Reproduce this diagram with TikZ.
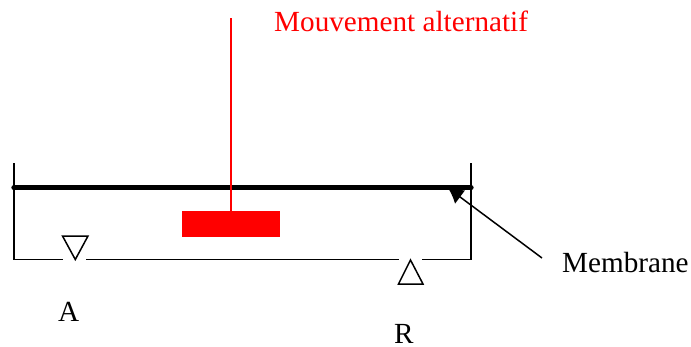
\documentclass[tikz,border=0pt]{standalone}
\usepackage{fontspec}
\usetikzlibrary{arrows.meta}
\setmainfont{Liberation Serif}
\tikzset{
 lbl/.style={inner sep=0pt,font=\fontsize{29.2}{30}\selectfont},
 wall/.style={line width=1.5pt,black},
 valve/.style={line width=1.5pt,black,fill=white,line join=miter}
}
\begin{document}
\begin{tikzpicture}[x=1pt,y=-1pt]
\useasboundingbox (0,0) rectangle (691,346);
\coordinate (ml) at (14,187.7);
\coordinate (mr) at (471,187.7);
\coordinate (tl) at (14,163);
\coordinate (tr) at (471,163);
\coordinate (bl) at (14,259.5);
\coordinate (br) at (471,259.5);
\coordinate (rt) at (231,18);
\coordinate (rb) at (231,211);
\coordinate (tip) at (448,188);
\coordinate (from) at (542,258);
\draw[wall] (tl) -- (bl) -- (63,259.5);
\draw[wall] (86,259.5) -- (399,259.5);
\draw[wall] (422,259.5) -- (br) -- (tr);
\draw[line width=5.4pt,black,line cap=round] (ml) -- (mr);
\draw[red,line width=1.5pt] (rt) -- (rb);
\node[fill=red,minimum width=98pt,minimum height=26pt,inner sep=0pt] (piston) at (231,223.7) {};
\draw[valve] (62.5,236) -- (88,236) -- (75.3,259.5) -- cycle;
\draw[valve] (398.5,284) -- (423,284) -- (410.5,260) -- cycle;
\node[lbl,text=red,anchor=base west] (mv) at (274,31) {Mouvement alternatif};
\node[lbl,anchor=base west] (mem) at (562,272) {Membrane};
\node[lbl,anchor=base west] (a) at (58,321) {A};
\node[lbl,anchor=base west] (r) at (394,343.5) {R};
\draw[line width=1.5pt,black,-{Latex[length=15pt,width=17pt]}] (from) -- (tip);
\end{tikzpicture}
\end{document}
